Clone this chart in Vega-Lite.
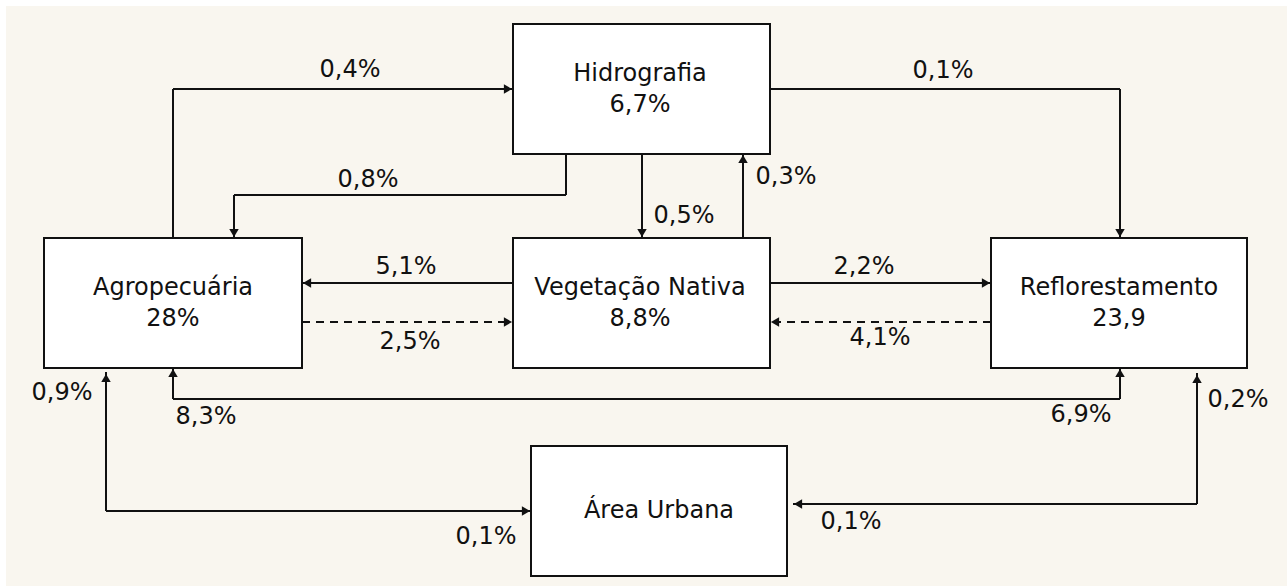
{
  "$schema": "https://vega.github.io/schema/vega-lite/v6.json",
  "width": 1287,
  "height": 586,
  "autosize": {"type": "fit", "contains": "padding"},
  "padding": 0,
  "background": "white",
  "config": {"view": {"stroke": null}},
  "datasets": {
    "bg": [{"x": 6, "x2": 1287, "y": 6, "y2": 586}],
    "boxes": [
      {"name": "Hidrografia", "x": 513, "x2": 770, "y": 24, "y2": 154},
      {"name": "Agropecuária", "x": 44, "x2": 302, "y": 238, "y2": 368},
      {"name": "Vegetação Nativa", "x": 513, "x2": 770, "y": 238, "y2": 368},
      {"name": "Reflorestamento", "x": 991, "x2": 1247, "y": 238, "y2": 368},
      {"name": "Área Urbana", "x": 531, "x2": 787, "y": 446, "y2": 576}
    ],
    "segments": [
      {"flow": "Agro-Hidro", "style": "solid", "x": 173, "y": 238, "x2": 173, "y2": 89},
      {"flow": "Agro-Hidro", "style": "solid", "x": 173, "y": 89, "x2": 513, "y2": 89},
      {"flow": "Hidro-Agro", "style": "solid", "x": 566, "y": 154, "x2": 566, "y2": 195},
      {"flow": "Hidro-Agro", "style": "solid", "x": 566, "y": 195, "x2": 234, "y2": 195},
      {"flow": "Hidro-Agro", "style": "solid", "x": 234, "y": 195, "x2": 234, "y2": 238},
      {"flow": "Hidro-Veg", "style": "solid", "x": 642, "y": 154, "x2": 642, "y2": 238},
      {"flow": "Veg-Hidro", "style": "solid", "x": 743, "y": 238, "x2": 743, "y2": 154},
      {"flow": "Hidro-Reflor", "style": "solid", "x": 770, "y": 89, "x2": 1120, "y2": 89},
      {"flow": "Hidro-Reflor", "style": "solid", "x": 1120, "y": 89, "x2": 1120, "y2": 238},
      {"flow": "Veg-Agro", "style": "solid", "x": 513, "y": 283, "x2": 302, "y2": 283},
      {"flow": "Agro-Veg", "style": "dashed", "x": 302, "y": 322, "x2": 513, "y2": 322},
      {"flow": "Veg-Reflor", "style": "solid", "x": 770, "y": 283, "x2": 991, "y2": 283},
      {"flow": "Reflor-Veg", "style": "dashed", "x": 991, "y": 322, "x2": 770, "y2": 322},
      {"flow": "Agro-Reflor", "style": "solid", "x": 173, "y": 368, "x2": 173, "y2": 399},
      {"flow": "Agro-Reflor", "style": "solid", "x": 173, "y": 399, "x2": 1120, "y2": 399},
      {"flow": "Agro-Reflor", "style": "solid", "x": 1120, "y": 399, "x2": 1120, "y2": 368},
      {"flow": "Agro-Urbana", "style": "solid", "x": 106, "y": 372, "x2": 106, "y2": 511},
      {"flow": "Agro-Urbana", "style": "solid", "x": 106, "y": 511, "x2": 531, "y2": 511},
      {"flow": "Reflor-Urbana", "style": "solid", "x": 1197, "y": 373, "x2": 1197, "y2": 504},
      {"flow": "Reflor-Urbana", "style": "solid", "x": 1197, "y": 504, "x2": 793, "y2": 504}
    ],
    "arrows": [
      {"x": 508, "y": 89, "dir": "right"},
      {"x": 234, "y": 233, "dir": "down"},
      {"x": 642, "y": 233, "dir": "down"},
      {"x": 743, "y": 159, "dir": "up"},
      {"x": 1120, "y": 233, "dir": "down"},
      {"x": 307, "y": 283, "dir": "left"},
      {"x": 508, "y": 322, "dir": "right"},
      {"x": 986, "y": 283, "dir": "right"},
      {"x": 775, "y": 322, "dir": "left"},
      {"x": 173, "y": 373, "dir": "up"},
      {"x": 1120, "y": 373, "dir": "up"},
      {"x": 106, "y": 378, "dir": "up"},
      {"x": 526, "y": 511, "dir": "right"},
      {"x": 1197, "y": 379, "dir": "up"},
      {"x": 798, "y": 504, "dir": "left"}
    ],
    "labels": [
      {"text": "Hidrografia", "x": 640, "y": 74},
      {"text": "6,7%", "x": 640, "y": 105},
      {"text": "Agropecuária", "x": 173, "y": 288},
      {"text": "28%", "x": 173, "y": 319},
      {"text": "Vegetação Nativa", "x": 640, "y": 288},
      {"text": "8,8%", "x": 640, "y": 319},
      {"text": "Reflorestamento", "x": 1119, "y": 288},
      {"text": "23,9", "x": 1119, "y": 319},
      {"text": "Área Urbana", "x": 659, "y": 511},
      {"text": "0,4%", "x": 350, "y": 70},
      {"text": "0,8%", "x": 368, "y": 180},
      {"text": "0,5%", "x": 684, "y": 216},
      {"text": "0,3%", "x": 786, "y": 177},
      {"text": "0,1%", "x": 943, "y": 71},
      {"text": "5,1%", "x": 406, "y": 267},
      {"text": "2,5%", "x": 410, "y": 342},
      {"text": "2,2%", "x": 864, "y": 267},
      {"text": "4,1%", "x": 880, "y": 338},
      {"text": "8,3%", "x": 206, "y": 417},
      {"text": "6,9%", "x": 1081, "y": 415},
      {"text": "0,9%", "x": 62, "y": 393},
      {"text": "0,1%", "x": 486, "y": 537},
      {"text": "0,2%", "x": 1238, "y": 400},
      {"text": "0,1%", "x": 851, "y": 522}
    ]
  },
  "layer": [
    {
      "data": {"name": "bg"},
      "mark": {"type": "rect", "color": "#f9f6ef"},
      "encoding": {
        "x": {"field": "x", "type": "quantitative", "scale": {"domain": [0, 1287], "nice": false, "zero": false}, "axis": null},
        "x2": {"field": "x2"},
        "y": {"field": "y", "type": "quantitative", "scale": {"domain": [0, 586], "nice": false, "zero": false, "reverse": true}, "axis": null},
        "y2": {"field": "y2"}
      }
    },
    {
      "data": {"name": "segments"},
      "mark": {"type": "rule", "color": "#111111", "strokeWidth": 2},
      "encoding": {
        "x": {"field": "x", "type": "quantitative", "scale": {"domain": [0, 1287], "nice": false, "zero": false}, "axis": null},
        "x2": {"field": "x2"},
        "y": {"field": "y", "type": "quantitative", "scale": {"domain": [0, 586], "nice": false, "zero": false, "reverse": true}, "axis": null},
        "y2": {"field": "y2"},
        "strokeDash": {"field": "style", "type": "nominal", "scale": {"domain": ["solid", "dashed"], "range": [[1, 0], [8, 6]]}, "legend": null}
      }
    },
    {
      "data": {"name": "boxes"},
      "mark": {"type": "rect", "fill": "white", "stroke": "#111111", "strokeWidth": 2},
      "encoding": {
        "x": {"field": "x", "type": "quantitative", "scale": {"domain": [0, 1287], "nice": false, "zero": false}, "axis": null},
        "x2": {"field": "x2"},
        "y": {"field": "y", "type": "quantitative", "scale": {"domain": [0, 586], "nice": false, "zero": false, "reverse": true}, "axis": null},
        "y2": {"field": "y2"}
      }
    },
    {
      "data": {"name": "arrows"},
      "mark": {"type": "point", "filled": true, "color": "#111111", "size": 90, "opacity": 1},
      "encoding": {
        "x": {"field": "x", "type": "quantitative", "scale": {"domain": [0, 1287], "nice": false, "zero": false}, "axis": null},
        "y": {"field": "y", "type": "quantitative", "scale": {"domain": [0, 586], "nice": false, "zero": false, "reverse": true}, "axis": null},
        "shape": {"field": "dir", "type": "nominal", "scale": {"domain": ["up", "down", "left", "right"], "range": ["triangle-up", "triangle-down", "triangle-left", "triangle-right"]}, "legend": null}
      }
    },
    {
      "data": {"name": "labels"},
      "mark": {"type": "text", "font": "DejaVu Sans", "fontSize": 24, "color": "#111111", "align": "center", "baseline": "middle"},
      "encoding": {
        "x": {"field": "x", "type": "quantitative", "scale": {"domain": [0, 1287], "nice": false, "zero": false}, "axis": null},
        "y": {"field": "y", "type": "quantitative", "scale": {"domain": [0, 586], "nice": false, "zero": false, "reverse": true}, "axis": null},
        "text": {"field": "text", "type": "nominal"}
      }
    }
  ]
}
